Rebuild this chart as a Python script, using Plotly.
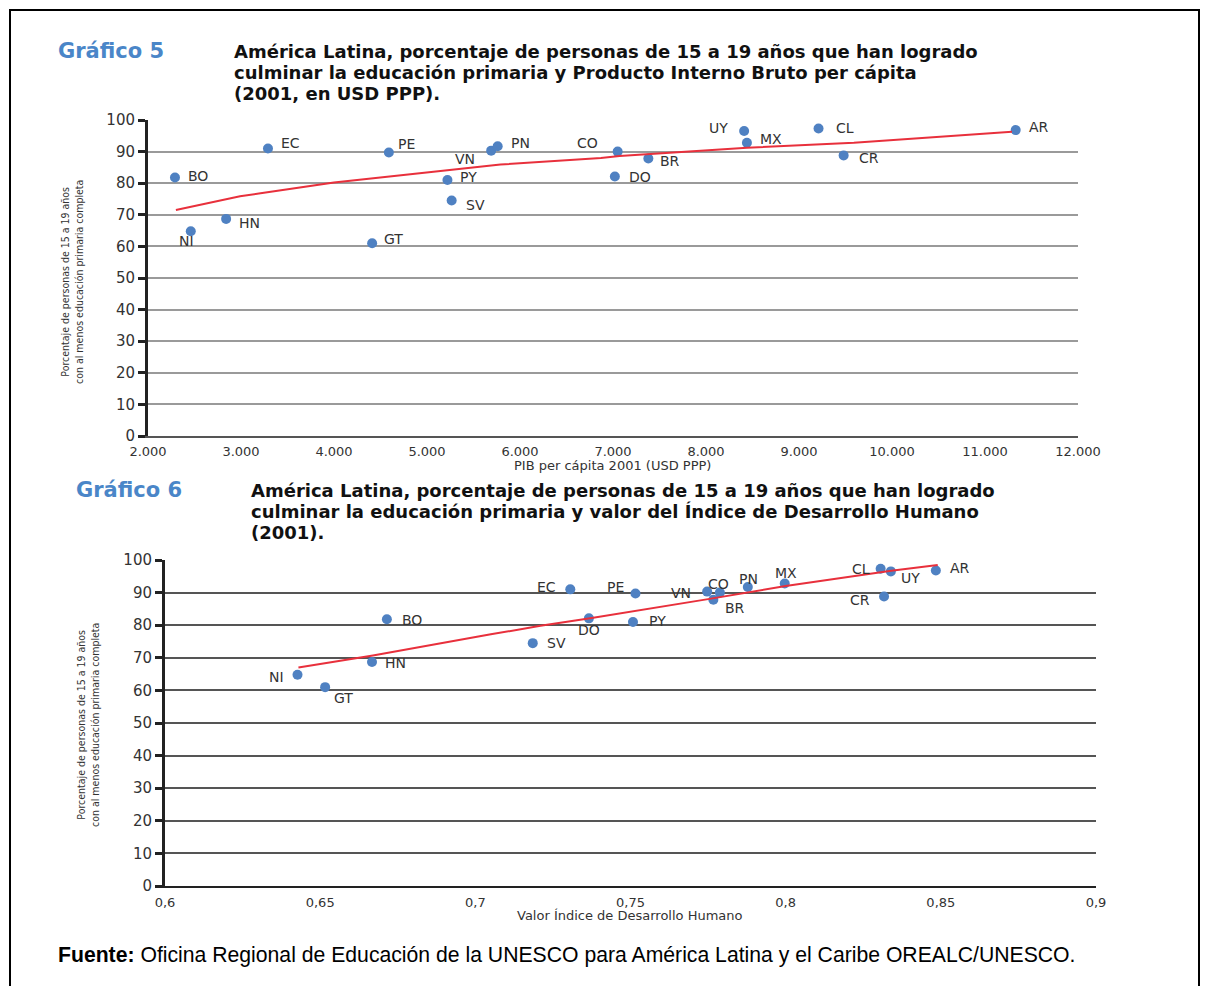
import plotly.graph_objects as go

# ---------------- data ----------------
countries = ["BO", "NI", "HN", "EC", "PE", "GT", "PY", "SV", "VN", "PN",
             "CO", "DO", "BR", "UY", "MX", "CL", "CR", "AR"]
pib_pc = [2290, 2460, 2840, 3290, 4590, 4410, 5220, 5265, 5690, 5760,
          7050, 7020, 7380, 8410, 8440, 9210, 9480, 11330]
idh = [0.6715, 0.6427, 0.6667, 0.7306, 0.7516, 0.6516, 0.7508, 0.7185, 0.7747, 0.7878,
       0.7788, 0.7366, 0.7767, 0.8339, 0.7997, 0.8306, 0.8317, 0.8484]
pct_primaria = [81.8, 64.8, 68.7, 91.0, 89.7, 61.0, 81.0, 74.5, 90.3, 91.7,
                90.0, 82.1, 87.8, 96.5, 92.8, 97.3, 88.8, 96.8]

trend5_x = [2300, 2990, 3210, 4000, 5070, 5790, 6870, 7070, 8440, 9590, 11290]
trend5_y = [71.5, 75.9, 76.8, 80.2, 83.6, 85.9, 88.0, 88.6, 91.2, 92.8, 96.3]

trend6_x = [0.643, 0.667, 0.705, 0.721, 0.737, 0.752, 0.775, 0.800, 0.820, 0.834, 0.849]
trend6_y = [67.0, 70.7, 77.2, 79.8, 82.1, 84.4, 88.0, 92.0, 94.9, 96.7, 98.5]

y_ticks = [0, 10, 20, 30, 40, 50, 60, 70, 80, 90, 100]
x5_ticks = [2000, 3000, 4000, 5000, 6000, 7000, 8000, 9000, 10000, 11000, 12000]
x5_ticktext = ["2.000", "3.000", "4.000", "5.000", "6.000", "7.000", "8.000",
               "9.000", "10.000", "11.000", "12.000"]
x6_ticks = [0.6, 0.65, 0.7, 0.75, 0.8, 0.85, 0.9]
x6_ticktext = ["0,6", "0,65", "0,7", "0,75", "0,8", "0,85", "0,9"]

title5_label = "Gráfico 5"
title5_lines = ["América Latina, porcentaje de personas de 15 a 19 años que han logrado",
                "culminar la educación primaria y Producto Interno Bruto per cápita",
                "(2001, en USD PPP)."]
title6_label = "Gráfico 6"
title6_lines = ["América Latina, porcentaje de personas de 15 a 19 años que han logrado",
                "culminar la educación primaria y valor del Índice de Desarrollo Humano",
                "(2001)."]
ytitle_lines = ["Porcentaje de personas de 15 a 19 años",
                "con al menos educación primaria completa"]
xtitle5 = "PIB per cápita 2001 (USD PPP)"
xtitle6 = "Valor Índice de Desarrollo Humano"
fuente_bold = "Fuente:"
fuente_text = " Oficina Regional de Educación de la UNESCO para América Latina y el Caribe OREALC/UNESCO."

# ---------------- style / layout ----------------
W, H = 1209, 986
OFF = 8  # page body margin


def fx(p):
    return (p - OFF) / W


def fy(p):
    return 1 - (p - OFF) / H


# label offsets in pixels: (xshift, yshift, xanchor)
lab5 = {"BO": (11, 2, "left"), "NI": (-4, -10, "center"), "HN": (11, -4, "left"),
        "EC": (11, 5, "left"), "PE": (7, 9, "left"), "GT": (10, 4, "left"),
        "PY": (11, 3, "left"), "SV": (12, -4, "left"), "VN": (-14, -8, "right"),
        "PN": (11, 3, "left"), "CO": (-18, 9, "right"), "DO": (12, 0, "left"),
        "BR": (10, -2, "left"), "UY": (-14, 3, "right"), "MX": (11, 4, "left"),
        "CL": (15, 1, "left"), "CR": (13, -3, "left"), "AR": (11, 3, "left")}
lab6 = {"NI": (-12, -2, "right"), "GT": (7, -11, "left"), "HN": (11, -1, "left"),
        "BO": (13, -1, "left"), "SV": (12, 0, "left"), "EC": (-12, 2, "right"),
        "DO": (0, -12, "center"), "PE": (-9, 7, "right"), "PY": (14, 1, "left"),
        "VN": (-14, -1, "right"), "CO": (-1, 9, "center"), "BR": (10, -8, "left"),
        "PN": (1, 8, "center"), "MX": (1, 10, "center"), "CL": (-9, 0, "right"),
        "UY": (8, -7, "left"), "CR": (-12, -3, "right"), "AR": (12, 2, "left")}

MARKER = "#4f81c2"
RED = "#e8303c"
TXT = "#333333"
LABEL_FONT = dict(family="DejaVu Sans", size=14, color=TXT)

fig = go.Figure()

fig.add_trace(go.Scatter(x=pib_pc, y=pct_primaria, mode="markers",
                         marker=dict(color=MARKER, size=10),
                         xaxis="x", yaxis="y", showlegend=False))
fig.add_trace(go.Scatter(x=trend5_x, y=trend5_y, mode="lines",
                         line=dict(color=RED, width=2),
                         xaxis="x", yaxis="y", showlegend=False))
fig.add_trace(go.Scatter(x=idh, y=pct_primaria, mode="markers",
                         marker=dict(color=MARKER, size=10),
                         xaxis="x2", yaxis="y2", showlegend=False))
fig.add_trace(go.Scatter(x=trend6_x, y=trend6_y, mode="lines",
                         line=dict(color=RED, width=2),
                         xaxis="x2", yaxis="y2", showlegend=False))

annotations = []
for c, xv, yv in zip(countries, pib_pc, pct_primaria):
    dx, dy, xa = lab5[c]
    annotations.append(dict(x=xv, y=yv, xref="x", yref="y", text=c, showarrow=False,
                            xanchor=xa, yanchor="middle", xshift=dx, yshift=dy,
                            font=LABEL_FONT))
for c, xv, yv in zip(countries, idh, pct_primaria):
    dx, dy, xa = lab6[c]
    annotations.append(dict(x=xv, y=yv, xref="x2", yref="y2", text=c, showarrow=False,
                            xanchor=xa, yanchor="middle", xshift=dx, yshift=dy,
                            font=LABEL_FONT))

TITLE_FONT = dict(family="DejaVu Sans", size=18, color="#111111")
LBL_FONT = dict(family="DejaVu Sans", size=21, color="#4a86c8")
LINE_GAP = 21


def add_title(label, lines, xl, xt, y0):
    annotations.append(dict(x=fx(xl), y=fy(y0), xref="paper", yref="paper",
                            text="<b>%s</b>" % label, showarrow=False,
                            xanchor="left", yanchor="middle", font=LBL_FONT))
    for i, ln in enumerate(lines):
        annotations.append(dict(x=fx(xt), y=fy(y0 + LINE_GAP * i), xref="paper",
                                yref="paper", text="<b>%s</b>" % ln, showarrow=False,
                                xanchor="left", yanchor="middle", font=TITLE_FONT))


add_title(title5_label, title5_lines, 56, 232, 51)
add_title(title6_label, title6_lines, 74, 249, 490)

YT_FONT = dict(family="Liberation Sans Narrow, DejaVu Sans Condensed", size=10.5, color=TXT)
for xc, yc in [(72, 282), (88, 725)]:
    annotations.append(dict(x=fx(xc), y=fy(yc), xref="paper", yref="paper",
                            text="<br>".join(ytitle_lines), showarrow=False,
                            textangle=-90, xanchor="center", yanchor="middle",
                            font=YT_FONT))

XT_FONT = dict(family="DejaVu Sans", size=13, color=TXT)
annotations.append(dict(x=fx(612), y=fy(465), xref="paper", yref="paper", text=xtitle5,
                        showarrow=False, xanchor="center", yanchor="middle", font=XT_FONT))
annotations.append(dict(x=fx(630), y=fy(915), xref="paper", yref="paper", text=xtitle6,
                        showarrow=False, xanchor="center", yanchor="middle", font=XT_FONT))

annotations.append(dict(x=fx(56), y=fy(955), xref="paper", yref="paper",
                        text="<b>%s</b>%s" % (fuente_bold, fuente_text), showarrow=False,
                        xanchor="left", yanchor="middle",
                        font=dict(family="Liberation Sans", size=21.2, color="#000000")))

TICK_FONT_Y = dict(family="DejaVu Sans", size=15, color=TXT)
TICK_FONT_X = dict(family="DejaVu Sans", size=13, color=TXT)

yaxis_common = dict(range=[0, 100], tickvals=y_ticks, ticks="outside", ticklen=7,
                    tickwidth=3, tickcolor="#222222", showline=True, linewidth=3,
                    linecolor="#222222", tickfont=TICK_FONT_Y, zeroline=False,
                    fixedrange=True, automargin=False)

fig.update_layout(
    width=W, height=H, autosize=False,
    margin=dict(l=0, r=0, t=0, b=0, pad=0),
    paper_bgcolor="white", plot_bgcolor="white",
    showlegend=False,
    xaxis=dict(domain=[fx(148), fx(1078)], range=[2000, 12000], tickvals=x5_ticks,
               ticktext=x5_ticktext, showgrid=False, showline=True, linewidth=1.5,
               linecolor="#555555", ticks="", tickfont=TICK_FONT_X, zeroline=False,
               ticklabelstandoff=3, anchor="y", automargin=False),
    yaxis=dict(domain=[fy(436), fy(120)], gridcolor="#9a9a9a", gridwidth=1.5,
               anchor="x", **yaxis_common),
    xaxis2=dict(domain=[fx(165), fx(1096)], range=[0.6, 0.9], tickvals=x6_ticks,
                ticktext=x6_ticktext, showgrid=False, showline=True, linewidth=2,
                linecolor="#222222", ticks="", tickfont=TICK_FONT_X, zeroline=False,
                ticklabelstandoff=3, anchor="y2", automargin=False),
    yaxis2=dict(domain=[fy(886), fy(560)], gridcolor="#555555", gridwidth=1.5,
                anchor="x2", **yaxis_common),
    annotations=annotations,
    shapes=[dict(type="rect", xref="paper", yref="paper", x0=fx(10), x1=fx(1199),
                 y0=fy(1000), y1=fy(10), line=dict(color="#000000", width=2))],
)

fig.write_html("out.html")
